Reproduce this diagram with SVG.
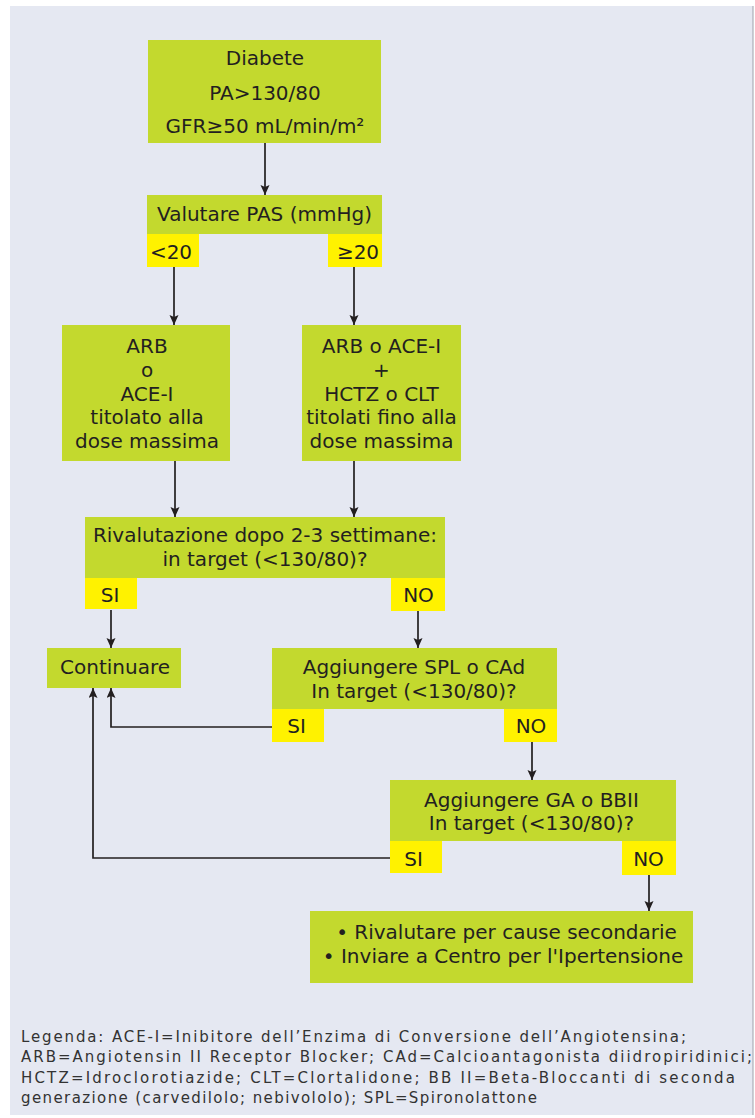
<svg xmlns="http://www.w3.org/2000/svg" width="755" height="1118" viewBox="0 0 755 1118">
<defs>
<marker id="ah" markerUnits="userSpaceOnUse" markerWidth="10" markerHeight="10" refX="10" refY="4.5" orient="auto">
<path d="M0,0 L10,4.5 L0,9 L2,4.5 z" fill="#231f20"/>
</marker>
<style>
.g{fill:#c3d92e}
.y{fill:#fff200}
.t{font-family:'DejaVu Sans','Liberation Sans',sans-serif;font-size:20px;fill:#231f20;text-anchor:middle}
.c{fill:none;stroke:#231f20;stroke-width:1.7;marker-end:url(#ah)}
.l{font-family:'DejaVu Sans','Liberation Sans',sans-serif;font-size:15px;fill:#333333}
</style>
</defs>
<rect x="0" y="0" width="755" height="1118" fill="#ffffff"/>
<rect x="10" y="6" width="743" height="1109" fill="#e5e8f2"/>
<line x1="753" y1="6" x2="753" y2="1115" stroke="#9ea2ab" stroke-width="1"/>

<g id="connectors">
<line class="c" x1="265" y1="143" x2="265" y2="195"/>
<line class="c" x1="174" y1="267" x2="174" y2="325"/>
<line class="c" x1="354" y1="267" x2="354" y2="325"/>
<line class="c" x1="175" y1="461" x2="175" y2="517"/>
<line class="c" x1="354" y1="461" x2="354" y2="517"/>
<line class="c" x1="111" y1="610" x2="111" y2="648"/>
<line class="c" x1="418" y1="611" x2="418" y2="648"/>
<line class="c" x1="532" y1="742" x2="532" y2="780"/>
<path class="c" d="M272,727 H111 V688"/>
<path class="c" d="M390,858 H93 V688"/>
<line class="c" x1="649" y1="875" x2="649" y2="911"/>
</g>

<g id="diabete">
<rect class="g" x="148" y="40" width="233" height="103"/>
<text class="t" x="265" y="65">Diabete</text>
<text class="t" x="265" y="100">PA&gt;130/80</text>
<text class="t" x="265" y="133">GFR≥50 mL/min/m²</text>
</g>

<g id="valutare">
<rect class="g" x="147" y="195" width="235" height="39"/>
<text class="t" x="264.5" y="221">Valutare PAS (mmHg)</text>
</g>
<g id="lt20">
<rect class="y" x="147" y="234" width="52" height="33"/>
<text class="t" x="171" y="259">&lt;20</text>
</g>
<g id="ge20">
<rect class="y" x="328" y="234" width="54" height="33"/>
<text class="t" x="358" y="259">≥20</text>
</g>

<g id="arb">
<rect class="g" x="62" y="325" width="168" height="136"/>
<text class="t" x="147" y="353">ARB</text>
<text class="t" x="147" y="377">o</text>
<text class="t" x="147" y="401">ACE-I</text>
<text class="t" x="147" y="424">titolato alla</text>
<text class="t" x="147" y="448">dose massima</text>
</g>

<g id="arb-hctz">
<rect class="g" x="302" y="325" width="159" height="136"/>
<text class="t" x="381.5" y="353">ARB o ACE-I</text>
<text class="t" x="381.5" y="377">+</text>
<text class="t" x="381.5" y="401">HCTZ o CLT</text>
<text class="t" x="381.5" y="424">titolati fino alla</text>
<text class="t" x="381.5" y="448">dose massima</text>
</g>

<g id="rivalutazione">
<rect class="g" x="85" y="517" width="360" height="61"/>
<text class="t" x="265" y="542">Rivalutazione dopo 2-3 settimane:</text>
<text class="t" x="265" y="566">in target (&lt;130/80)?</text>
</g>
<g id="si1">
<rect class="y" x="85" y="578" width="52" height="31"/>
<text class="t" x="110" y="602">SI</text>
</g>
<g id="no1">
<rect class="y" x="391" y="578" width="54" height="33"/>
<text class="t" x="418.5" y="602">NO</text>
</g>

<g id="continuare">
<rect class="g" x="47" y="648" width="134" height="40"/>
<text class="t" x="115" y="674">Continuare</text>
</g>

<g id="spl">
<rect class="g" x="272" y="648" width="285" height="61"/>
<text class="t" x="414" y="674">Aggiungere SPL o CAd</text>
<text class="t" x="414" y="698">In target (&lt;130/80)?</text>
</g>
<g id="si2">
<rect class="y" x="272" y="709" width="52" height="33"/>
<text class="t" x="296.5" y="733">SI</text>
</g>
<g id="no2">
<rect class="y" x="504" y="709" width="53" height="33"/>
<text class="t" x="531" y="733">NO</text>
</g>

<g id="ga">
<rect class="g" x="390" y="780" width="286" height="61"/>
<text class="t" x="531.5" y="807">Aggiungere GA o BBII</text>
<text class="t" x="531.5" y="830">In target (&lt;130/80)?</text>
</g>
<g id="si3">
<rect class="y" x="390" y="841" width="52" height="32"/>
<text class="t" x="413.5" y="866">SI</text>
</g>
<g id="no3">
<rect class="y" x="622" y="841" width="54" height="34"/>
<text class="t" x="648.5" y="866">NO</text>
</g>

<g id="finale">
<rect class="g" x="310" y="911" width="383" height="72"/>
<text class="t" x="506.5" y="939">• Rivalutare per cause secondarie</text>
<text class="t" x="503" y="963">• Inviare a Centro per l'Ipertensione</text>
</g>

<g id="legenda">
<text class="l" x="21" y="1042" textLength="665">Legenda: ACE-I=Inibitore dell’Enzima di Conversione dell’Angiotensina;</text>
<text class="l" x="21" y="1062" textLength="731">ARB=Angiotensin II Receptor Blocker; CAd=Calcioantagonista diidropiridinici;</text>
<text class="l" x="21" y="1083" textLength="714">HCTZ=Idroclorotiazide; CLT=Clortalidone; BB II=Beta-Bloccanti di seconda</text>
<text class="l" x="21" y="1103" textLength="516">generazione (carvedilolo; nebivololo); SPL=Spironolattone</text>
</g>
</svg>
